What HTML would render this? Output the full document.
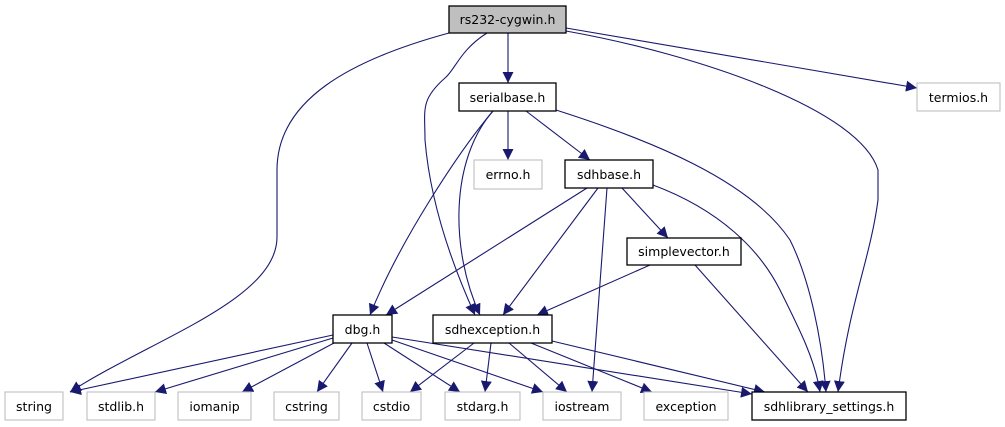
<!DOCTYPE html>
<html><head><meta charset="utf-8"><style>
html,body{margin:0;padding:0;background:#fff;}
svg{display:block;}
text{font-family:"DejaVu Sans","Liberation Sans",sans-serif;font-size:12.5px;fill:#000;}
.e{fill:none;stroke:#191970;stroke-width:1.1;}
.n{fill:#fff;stroke:#000;stroke-width:1.3;}
.g{fill:#fff;stroke:#bfbfbf;stroke-width:1.1;}
</style></head><body>
<svg width="1005" height="427" viewBox="0 0 1005 427" xmlns="http://www.w3.org/2000/svg">
<defs><marker id="a" viewBox="0 0 10 10" refX="10" refY="5" markerWidth="11" markerHeight="11" markerUnits="userSpaceOnUse" orient="auto"><path d="M0,0L10,5L0,10z" fill="#191970"/></marker></defs>
<g marker-end="url(#a)">
<path class="e" d="M508,33 L508,83"/>
<path class="e" d="M449,33 C350,60 277,100 277,170 L277,237 C277,300 150,340 70,392"/>
<path class="e" d="M487,33 C460,50 455,70 445,78 C420,100 425,110 425,140 C430,200 450,260 475,315"/>
<path class="e" d="M566,31 C700,55 860,110 878,170 L878,200 C870,260 850,300 838,392"/>
<path class="e" d="M566,28 L917,88"/>
<path class="e" d="M508,111 L508,160"/>
<path class="e" d="M526,111 L590,160"/>
<path class="e" d="M493,111 C460,150 400,240 370,315"/>
<path class="e" d="M493,111 C450,160 450,250 480,315"/>
<path class="e" d="M556,110 C650,140 750,180 790,240 C810,280 822,340 826,392"/>
<path class="e" d="M587,188 L386,315"/>
<path class="e" d="M598,188 L503,315"/>
<path class="e" d="M607,188 L592,392"/>
<path class="e" d="M622,188 L668,238"/>
<path class="e" d="M653,185 C720,210 760,250 780,290 C800,330 815,360 820,392"/>
<path class="e" d="M650,265 L537,315"/>
<path class="e" d="M695,265 L808,392"/>
<path class="e" d="M333,335 L70,392"/>
<path class="e" d="M333,338 L155,392"/>
<path class="e" d="M334,343 L242,392"/>
<path class="e" d="M352,343 L317,392"/>
<path class="e" d="M367,343 L383,392"/>
<path class="e" d="M384,343 L460,392"/>
<path class="e" d="M392,340 L543,392"/>
<path class="e" d="M392,337 L752,394"/>
<path class="e" d="M474,343 L410,392"/>
<path class="e" d="M491,343 L485,392"/>
<path class="e" d="M509,343 L567,392"/>
<path class="e" d="M531,343 L652,392"/>
<path class="e" d="M552,341 L765,392"/>
</g>
<rect x="449" y="6" width="117" height="27" fill="#bfbfbf" stroke="#000" stroke-width="1.3"/>
<text x="507.5" y="24" text-anchor="middle">rs232-cygwin.h</text>
<rect class="n" x="459" y="83" width="97" height="28"/><text x="507.5" y="102" text-anchor="middle">serialbase.h</text>
<rect class="g" x="474" y="160" width="68" height="29"/><text x="508" y="179" text-anchor="middle">errno.h</text>
<rect class="n" x="565" y="160" width="88" height="28"/><text x="609" y="179" text-anchor="middle">sdhbase.h</text>
<rect class="g" x="917" y="83" width="83" height="28"/><text x="958.5" y="102" text-anchor="middle">termios.h</text>
<rect class="n" x="627" y="238" width="114" height="27"/><text x="684" y="256" text-anchor="middle">simplevector.h</text>
<rect class="n" x="333" y="315" width="59" height="28"/><text x="362.5" y="334" text-anchor="middle">dbg.h</text>
<rect class="n" x="433" y="315" width="119" height="28"/><text x="492.5" y="334" text-anchor="middle">sdhexception.h</text>
<rect class="g" x="5" y="392" width="58" height="28"/><text x="34" y="411" text-anchor="middle">string</text>
<rect class="g" x="87" y="392" width="68" height="28"/><text x="121" y="411" text-anchor="middle">stdlib.h</text>
<rect class="g" x="178" y="392" width="73" height="28"/><text x="214.5" y="411" text-anchor="middle">iomanip</text>
<rect class="g" x="274" y="392" width="65" height="28"/><text x="306.5" y="411" text-anchor="middle">cstring</text>
<rect class="g" x="362" y="392" width="59" height="28"/><text x="391.5" y="411" text-anchor="middle">cstdio</text>
<rect class="g" x="445" y="392" width="75" height="28"/><text x="482.5" y="411" text-anchor="middle">stdarg.h</text>
<rect class="g" x="543" y="392" width="78" height="28"/><text x="582" y="411" text-anchor="middle">iostream</text>
<rect class="g" x="644" y="392" width="84" height="28"/><text x="686" y="411" text-anchor="middle">exception</text>
<rect class="n" x="752" y="392" width="154" height="28"/><text x="829" y="411" text-anchor="middle">sdhlibrary_settings.h</text>
</svg>
</body></html>
